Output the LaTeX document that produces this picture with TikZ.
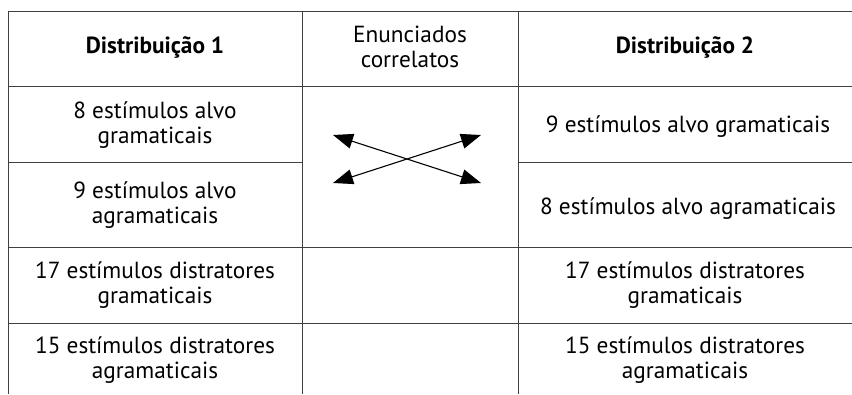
\documentclass[tikz,border=0pt]{standalone}
\usepackage{fontspec}
\setmainfont{PT Sans}
\usetikzlibrary{arrows.meta}
\begin{document}
\begin{tikzpicture}[x=1pt,y=-1pt,
  grid/.style={draw=black!75, line width=1pt},
  cell/.style={align=center, font=\fontsize{23.3}{25}\selectfont, inner sep=0pt},
  head/.style={align=center, font=\fontsize{23.3}{25}\selectfont\bfseries, inner sep=0pt},
  link/.style={line width=1.1pt, {Triangle[length=20pt,width=15pt]}-{Triangle[length=20pt,width=15pt]}}]
\useasboundingbox (0,0) rectangle (852,394);
% grid
\draw[grid] (8,11) -- (852,11);
\draw[grid] (8,11) -- (8,394);
\draw[grid] (302,11) -- (302,394);
\draw[grid] (518,11) -- (518,394);
\draw[grid] (8,86) -- (852,86);
\draw[grid] (8,162) -- (302,162);
\draw[grid] (518,162) -- (852,162);
\draw[grid] (8,247) -- (852,247);
\draw[grid] (8,323) -- (852,323);
% headers
\node[head] (h1) at (155,48) {Distribuição 1};
\node[cell] (h2) at (410,47) {Enunciados\\correlatos};
\node[head] (h3) at (685,48) {Distribuição 2};
% left column
\node[cell] (l1) at (155,125) {8 estímulos alvo\\gramaticais};
\node[cell] (l2) at (155,205) {9 estímulos alvo\\agramaticais};
\node[cell] (l3) at (155,285) {17 estímulos distratores\\gramaticais};
\node[cell] (l4) at (155,360) {15 estímulos distratores\\agramaticais};
% right column
\node[cell] (r1) at (688,127) {9 estímulos alvo gramaticais};
\node[cell] (r2) at (688,209) {8 estímulos alvo agramaticais};
\node[cell] (r3) at (685,285) {17 estímulos distratores\\gramaticais};
\node[cell] (r4) at (685,360) {15 estímulos distratores\\agramaticais};
% arrows
\coordinate (a1) at (333,135);
\coordinate (a2) at (481,183);
\coordinate (b1) at (333,183);
\coordinate (b2) at (481,135);
\draw[link] (a1) -- (a2);
\draw[link] (b1) -- (b2);
\end{tikzpicture}
\end{document}
